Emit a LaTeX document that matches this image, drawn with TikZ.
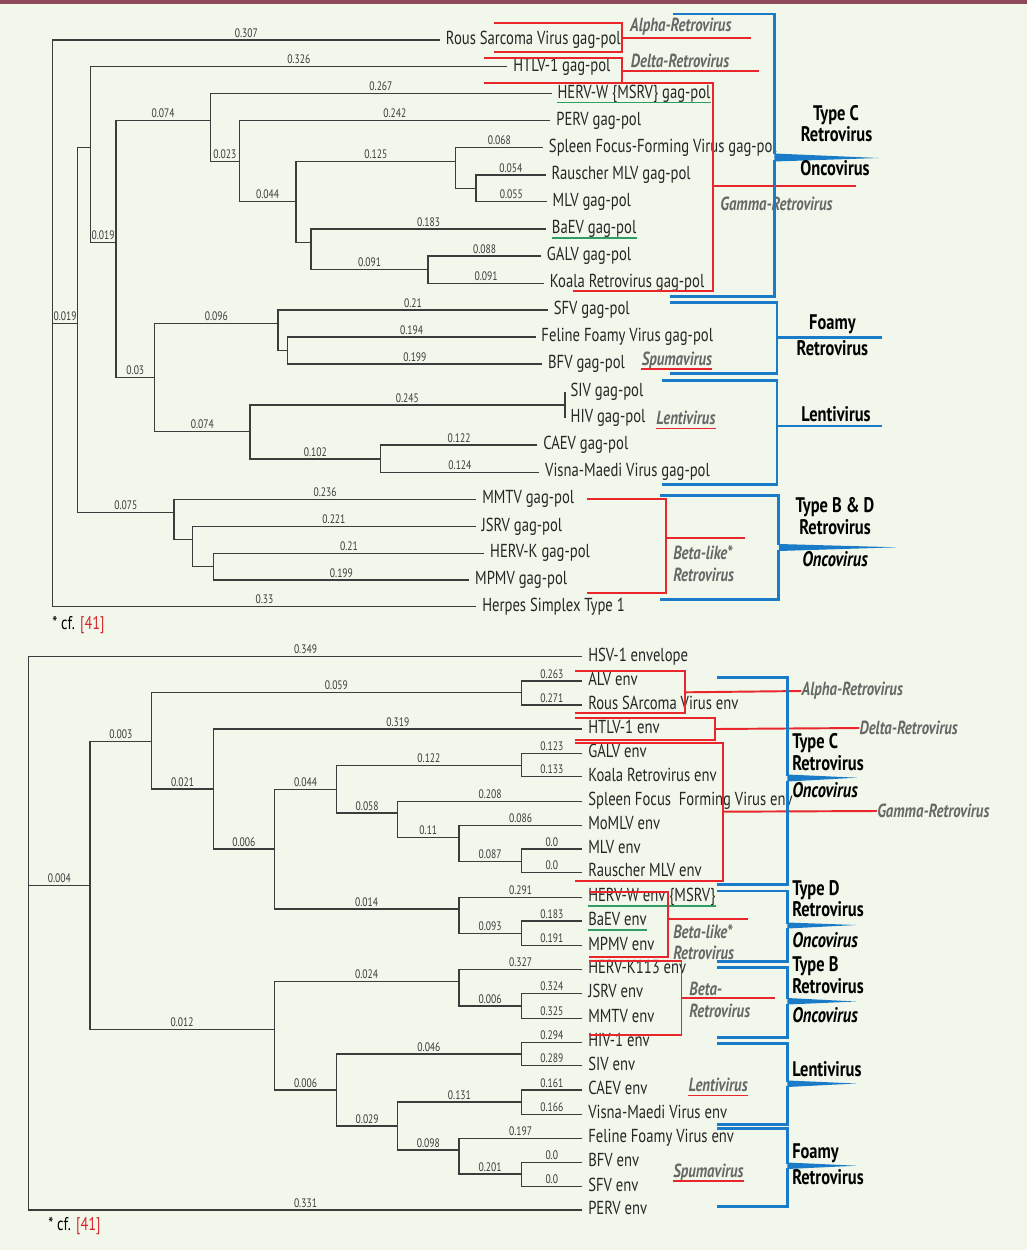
\documentclass[tikz,border=0pt]{standalone}
\usepackage{fontspec}
\setmainfont{PT Sans}[FakeStretch=0.78]
\usetikzlibrary{positioning}

\definecolor{paper}{HTML}{F1F7EA}
\definecolor{band}{HTML}{8E4A5A}
\definecolor{treeline}{HTML}{3C3C3C}
\definecolor{genusred}{HTML}{E8262B}
\definecolor{typeblue}{HTML}{1A7BC8}
\definecolor{hervgreen}{HTML}{2E9E62}
\definecolor{genusgray}{HTML}{676767}
\definecolor{refred}{HTML}{D7262B}

\tikzset{
  branch/.style={draw=treeline, line width=0.65pt},
  leaf/.style={anchor=west, inner xsep=3.2pt, inner ysep=0pt, text=black!85,
    text height=7.5pt, text depth=2.2pt, font=\fontsize{10.7}{12}\selectfont},
  brlen/.style={above, pos=0.75, inner sep=1.2pt, text=treeline,
    font=\fontsize{7}{8}\selectfont},
  genusline/.style={draw=genusred, line width=1.1pt},
  genuslabel/.style={anchor=west, inner sep=0pt, text=genusgray, align=left,
    font=\fontsize{10.8}{12.5}\selectfont\bfseries\itshape},
  typeline/.style={draw=typeblue, line width=1.5pt},
  typelabel/.style={inner sep=0pt, text=black, text height=8.5pt, text depth=2.5pt,
    font=\fontsize{12}{13}\selectfont\bfseries},
  hervline/.style={draw=hervgreen, line width=1pt},
}

\begin{document}
\begin{tikzpicture}[x=0.02cm,y=-0.02cm]

\useasboundingbox (0,0) rectangle (1027,1250);
\fill[paper] (0,0) rectangle (1027,1250);
\fill[band] (0,0) rectangle (1027,4);

%%%%%%%%%%%%%%%%%%%%%%%%%%%%%%%%%%%%%%%%
%%% Upper tree : gag-pol
%%%%%%%%%%%%%%%%%%%%%%%%%%%%%%%%%%%%%%%%

% Inner nodes
\coordinate (troot) at (52.7,323.3);
\coordinate (tA) at (77.7,323.3);
\coordinate (tB) at (90.3,147.7);
\coordinate (tC) at (116,242.7);
\coordinate (tD) at (210.3,120.7);
\coordinate (tE) at (239.3,161.7);
\coordinate (tF) at (296,201.7);
\coordinate (tG) at (455.7,161.7);
\coordinate (tH) at (476,188.3);
\coordinate (tI) at (311,242.7);
\coordinate (tJ) at (428,269.3);
\coordinate (tK) at (154.7,377.7);
\coordinate (tL) at (278,323.3);
\coordinate (tM) at (287.7,350.7);
\coordinate (tN) at (250,431.7);
\coordinate (tO) at (380.7,459);
\coordinate (tP) at (174,512.7);
\coordinate (tQ) at (192.3,539.3);
\coordinate (tR) at (213.7,566.7);
\coordinate (sivhiv) at (564.7,405);

% Leaves
\node[leaf] (rous) at (440,40) {Rous Sarcoma Virus gag-pol};
\node[leaf] (htlv) at (507.4,66.7) {HTLV-1 gag-pol};
\node[leaf] (hervw) at (551.6,93.7) {HERV-W \{MSRV\} gag-pol};
\node[leaf] (perv) at (550.4,120.7) {PERV gag-pol};
\node[leaf] (sffv) at (543,147.7) {Spleen Focus-Forming Virus gag-pol};
\node[leaf] (rauscher) at (545.6,175) {Rauscher MLV gag-pol};
\node[leaf] (mlv) at (546.7,201.7) {MLV gag-pol};
\node[leaf] (baev) at (546,229) {BaEV gag-pol};
\node[leaf] (galv) at (541,256) {GALV gag-pol};
\node[leaf] (koala) at (544,283.3) {Koala Retrovirus gag-pol};
\node[leaf] (sfv) at (547.8,310) {SFV gag-pol};
\node[leaf] (ffv) at (535.5,337) {Feline Foamy Virus gag-pol};
\node[leaf] (bfv) at (542.2,364) {BFV gag-pol};
\node[leaf] (siv) at (564.7,391.7) {SIV gag-pol};
\node[leaf] (hiv) at (564.7,418.3) {HIV gag-pol};
\node[leaf] (caev) at (537.3,445) {CAEV gag-pol};
\node[leaf] (visna) at (539.2,472.3) {Visna-Maedi Virus gag-pol};
\node[leaf] (mmtv) at (476.3,499.3) {MMTV gag-pol};
\node[leaf] (jsrv) at (475.6,526.7) {JSRV gag-pol};
\node[leaf] (hervk) at (484.2,553.3) {HERV-K gag-pol};
\node[leaf] (mpmv) at (469.2,580) {MPMV gag-pol};
\node[leaf] (herpes) at (476.3,606.7) {Herpes Simplex Type 1};

% Branches
\draw[branch] (troot) |- node[brlen]{0.307} (rous.west);
\draw[branch] (troot) |- node[brlen]{0.019} (tA);
\draw[branch] (troot) |- node[brlen]{0.33} (herpes.west);
\draw[branch] (tA) |- (tB);
\draw[branch] (tA) |- node[brlen]{0.075} (tP);
\draw[branch] (tB) |- node[brlen]{0.326} (htlv.west);
\draw[branch] (tB) |- node[brlen]{0.019} (tC);
\draw[branch] (tC) |- node[brlen]{0.074} (tD);
\draw[branch] (tC) |- node[brlen]{0.03} (tK);
\draw[branch] (tD) |- node[brlen]{0.267} (hervw.west);
\draw[branch] (tD) |- node[brlen]{0.023} (tE);
\draw[branch] (tE) |- node[brlen]{0.242} (perv.west);
\draw[branch] (tE) |- node[brlen]{0.044} (tF);
\draw[branch] (tF) |- node[brlen]{0.125} (tG);
\draw[branch] (tF) |- (tI);
\draw[branch] (tG) |- node[brlen]{0.068} (sffv.west);
\draw[branch] (tG) |- (tH);
\draw[branch] (tH) |- node[brlen]{0.054} (rauscher.west);
\draw[branch] (tH) |- node[brlen]{0.055} (mlv.west);
\draw[branch] (tI) |- node[brlen]{0.183} (baev.west);
\draw[branch] (tI) |- node[brlen]{0.091} (tJ);
\draw[branch] (tJ) |- node[brlen]{0.088} (galv.west);
\draw[branch] (tJ) |- node[brlen]{0.091} (koala.west);
\draw[branch] (tK) |- node[brlen]{0.096} (tL);
\draw[branch] (tK) |- node[brlen]{0.074} (tN);
\draw[branch] (tL) |- node[brlen]{0.21} (sfv.west);
\draw[branch] (tL) |- (tM);
\draw[branch] (tM) |- node[brlen]{0.194} (ffv.west);
\draw[branch] (tM) |- node[brlen]{0.199} (bfv.west);
\draw[branch] (tN) |- node[brlen]{0.245} (sivhiv);
\draw[branch, line width=1.2pt] (siv.west) -- (hiv.west);
\draw[branch] (tN) |- node[brlen]{0.102} (tO);
\draw[branch] (tO) |- node[brlen]{0.122} (caev.west);
\draw[branch] (tO) |- node[brlen]{0.124} (visna.west);
\draw[branch] (tP) |- node[brlen]{0.236} (mmtv.west);
\draw[branch] (tP) |- (tQ);
\draw[branch] (tQ) |- node[brlen]{0.221} (jsrv.west);
\draw[branch] (tQ) |- (tR);
\draw[branch] (tR) |- node[brlen]{0.21} (hervk.west);
\draw[branch] (tR) |- node[brlen]{0.199} (mpmv.west);

% Human endogenous
\draw[hervline] ([xshift=3.2pt,yshift=-2.4pt]hervw.base west) -- ([xshift=-3.2pt,yshift=-2.4pt]hervw.base east);
\draw[hervline] ([xshift=3.2pt,yshift=-2.4pt]baev.base west) -- ([xshift=-3.2pt,yshift=-2.4pt]baev.base east);

% Genera (red)
\draw[genusline] (494.3,23.3) -- (622.3,23.3) -- (622.3,52.3) -- (494.3,52.3);
\draw[genusline] (622.3,38.3) -- (750.7,38.3);
\node[genuslabel] (alphaT) at (629.8,26.7) {Alpha-Retrovirus};

\draw[genusline] (484.2,58.3) -- (621.6,58.3) -- (621.6,83.3) -- (484.2,83.3);
\draw[genusline] (621.6,70.7) -- (759.4,70.7);
\node[genuslabel] (deltaT) at (630.6,61) {Delta-Retrovirus};

\draw[genusline] (572.9,83.3) -- (713.3,83.3) -- (713.3,291) -- (572.9,291);
\draw[genusline] (713.3,186) -- (855.6,186);
\node[genuslabel] (gammaT) at (720,204) {Gamma-Retrovirus};

\node[genuslabel] (spumaT) at (641.4,360.7) {Spumavirus};
\draw[genusline] ([yshift=-2.2pt]spumaT.base west) -- ([yshift=-2.2pt]spumaT.base east);

\node[genuslabel] (lentiT) at (656,418) {Lentivirus};
\draw[genusline] ([yshift=-2.2pt]lentiT.base west) -- ([yshift=-2.2pt]lentiT.base east);

\draw[genusline] (587.1,499.3) -- (665.8,499.3) -- (665.8,592.7) -- (587.1,592.7);
\draw[genusline] (665.8,538.3) -- (745.1,538.3);
\node[genuslabel] (betaT) at (672.9,564) {Beta-like*\\Retrovirus};

% Types (blue)
\draw[typeline] (672.9,14) -- (774.3,14) -- (774.3,154.5);
\fill[typeblue] (774.3,153.5) -- (878.8,158) -- (774.3,161.5) -- cycle;
\draw[typeline] (774.3,160.5) -- (774.3,296.7) -- (670.3,296.7);
\node[typelabel] (tcType) at (836,115) {Type C};
\node[typelabel] (tcRetro) at (836.5,136) {Retrovirus};
\node[typelabel] (tcOnco) at (835,170.7) {Oncovirus};

\draw[typeline] (670.3,302.7) -- (777,302.7) -- (777,373.3) -- (670.3,373.3);
\draw[typeline] (777,337.7) -- (881.8,337.7);
\node[typelabel] (tfFoamy) at (832.4,324.3) {Foamy};
\node[typelabel] (tfRetro) at (832.4,350) {Retrovirus};

\draw[typeline] (662,380.7) -- (777,380.7) -- (777,484.3) -- (662,484.3);
\draw[typeline] (777,426) -- (881.8,426);
\node[typelabel] (tlLenti) at (836,416) {Lentivirus};

\draw[typeline] (659.8,495.7) -- (778.8,495.7) -- (778.8,545);
\fill[typeblue] (778.8,544) -- (896.8,547.3) -- (778.8,551) -- cycle;
\draw[typeline] (778.8,550) -- (778.8,599.3) -- (659.8,599.3);
\node[typelabel] (tbType) at (835,507.3) {Type B \& D};
\node[typelabel] (tbRetro) at (835,529) {Retrovirus};
\node[typelabel, font=\fontsize{12}{13}\selectfont\bfseries\itshape] (tbOnco) at (835,561.7) {Oncovirus};

\node[anchor=west, inner sep=0pt, font=\fontsize{10.5}{12}\selectfont] (noteT) at (52,625) {* cf. \textcolor{refred}{[41]}};

%%%%%%%%%%%%%%%%%%%%%%%%%%%%%%%%%%%%%%%%
%%% Lower tree : env
%%%%%%%%%%%%%%%%%%%%%%%%%%%%%%%%%%%%%%%%

% Inner nodes
\coordinate (broot) at (28.7,885.3);
\coordinate (b1) at (90,885.3);
\coordinate (b2) at (151.7,741.3);
\coordinate (balv) at (521.2,692.7);
\coordinate (b3) at (213.3,789);
\coordinate (b4) at (274.3,849);
\coordinate (b5) at (336.7,789.3);
\coordinate (bgalv) at (521.2,765.3);
\coordinate (b6) at (397.7,813);
\coordinate (b7) at (459,837.3);
\coordinate (b8) at (521.2,861.3);
\coordinate (b9) at (459,909);
\coordinate (b10) at (521.2,933.3);
\coordinate (b11) at (274.3,1029.3);
\coordinate (b12) at (459,981.7);
\coordinate (b13) at (521.2,1006);
\coordinate (b14) at (336.7,1090);
\coordinate (b15) at (521.2,1054);
\coordinate (b16) at (397.7,1126);
\coordinate (b17) at (521.2,1102);
\coordinate (b18) at (459,1150);
\coordinate (b19) at (521.2,1174);

% Leaves
\node[leaf] (ehsv) at (582.3,656.7) {HSV-1 envelope};
\node[leaf] (ealv) at (582.3,681) {ALV env};
\node[leaf] (ersv) at (582.3,705) {Rous SArcoma Virus env};
\node[leaf] (ehtlv) at (582.3,729) {HTLV-1 env};
\node[leaf] (egalv) at (582.3,753.3) {GALV env};
\node[leaf] (ekoala) at (582.3,776.7) {Koala Retrovirus env};
\node[leaf] (esffv) at (582.3,801.3) {Spleen Focus~ Forming Virus env};
\node[leaf] (emomlv) at (582.3,825.3) {MoMLV env};
\node[leaf] (emlv) at (582.3,849) {MLV env};
\node[leaf] (erauscher) at (582.3,872.3) {Rauscher MLV env};
\node[leaf] (ehervw) at (582.3,897.3) {HERV-W env \{MSRV\}};
\node[leaf] (ebaev) at (582.3,921) {BaEV env};
\node[leaf] (empmv) at (582.3,945.7) {MPMV env};
\node[leaf] (ehervk) at (582.3,969.3) {HERV-K113 env};
\node[leaf] (ejsrv) at (582.3,993.3) {JSRV env};
\node[leaf] (emmtv) at (582.3,1018.3) {MMTV env};
\node[leaf] (ehiv) at (582.3,1042.3) {HIV-1 env};
\node[leaf] (esiv) at (582.3,1065.7) {SIV env};
\node[leaf] (ecaev) at (582.3,1090) {CAEV env};
\node[leaf] (evisna) at (582.3,1114.3) {Visna-Maedi Virus env};
\node[leaf] (effv) at (582.3,1138.3) {Feline Foamy Virus env};
\node[leaf] (ebfv) at (582.3,1162.3) {BFV env};
\node[leaf] (esfv) at (582.3,1186.7) {SFV env};
\node[leaf] (eperv) at (582.3,1210) {PERV env};

% Branches
\draw[branch] (broot) |- node[brlen]{0.349} (ehsv.west);
\draw[branch] (broot) |- node[brlen]{0.004} (b1);
\draw[branch] (broot) |- node[brlen]{0.331} (eperv.west);
\draw[branch] (b1) |- node[brlen]{0.003} (b2);
\draw[branch] (b1) |- node[brlen]{0.012} (b11);
\draw[branch] (b2) |- node[brlen]{0.059} (balv);
\draw[branch] (b2) |- node[brlen]{0.021} (b3);
\draw[branch] (balv) |- node[brlen]{0.263} (ealv.west);
\draw[branch] (balv) |- node[brlen]{0.271} (ersv.west);
\draw[branch] (b3) |- node[brlen]{0.319} (ehtlv.west);
\draw[branch] (b3) |- node[brlen]{0.006} (b4);
\draw[branch] (b4) |- node[brlen]{0.044} (b5);
\draw[branch] (b4) |- node[brlen]{0.014} (b9);
\draw[branch] (b5) |- node[brlen]{0.122} (bgalv);
\draw[branch] (b5) |- node[brlen]{0.058} (b6);
\draw[branch] (bgalv) |- node[brlen]{0.123} (egalv.west);
\draw[branch] (bgalv) |- node[brlen]{0.133} (ekoala.west);
\draw[branch] (b6) |- node[brlen]{0.208} (esffv.west);
\draw[branch] (b6) |- node[brlen]{0.11} (b7);
\draw[branch] (b7) |- node[brlen]{0.086} (emomlv.west);
\draw[branch] (b7) |- node[brlen]{0.087} (b8);
\draw[branch] (b8) |- node[brlen]{0.0} (emlv.west);
\draw[branch] (b8) |- node[brlen]{0.0} (erauscher.west);
\draw[branch] (b9) |- node[brlen]{0.291} (ehervw.west);
\draw[branch] (b9) |- node[brlen]{0.093} (b10);
\draw[branch] (b10) |- node[brlen]{0.183} (ebaev.west);
\draw[branch] (b10) |- node[brlen]{0.191} (empmv.west);
\draw[branch] (b11) |- node[brlen]{0.024} (b12);
\draw[branch] (b11) |- node[brlen]{0.006} (b14);
\draw[branch] (b12) |- node[brlen]{0.327} (ehervk.west);
\draw[branch] (b12) |- node[brlen]{0.006} (b13);
\draw[branch] (b13) |- node[brlen]{0.324} (ejsrv.west);
\draw[branch] (b13) |- node[brlen]{0.325} (emmtv.west);
\draw[branch] (b14) |- node[brlen]{0.046} (b15);
\draw[branch] (b14) |- node[brlen]{0.029} (b16);
\draw[branch] (b15) |- node[brlen]{0.294} (ehiv.west);
\draw[branch] (b15) |- node[brlen]{0.289} (esiv.west);
\draw[branch] (b16) |- node[brlen]{0.131} (b17);
\draw[branch] (b16) |- node[brlen]{0.098} (b18);
\draw[branch] (b17) |- node[brlen]{0.161} (ecaev.west);
\draw[branch] (b17) |- node[brlen]{0.166} (evisna.west);
\draw[branch] (b18) |- node[brlen]{0.197} (effv.west);
\draw[branch] (b18) |- node[brlen]{0.201} (b19);
\draw[branch] (b19) |- node[brlen]{0.0} (ebfv.west);
\draw[branch] (b19) |- node[brlen]{0.0} (esfv.west);

% Human endogenous
\draw[hervline] ([xshift=3.2pt,yshift=-2.4pt]ehervw.base west) -- ([xshift=-3.2pt,yshift=-2.4pt]ehervw.base east);
\draw[hervline] ([xshift=3.2pt,yshift=-2.4pt]ebaev.base west) -- ([xshift=-3.2pt,yshift=-2.4pt]ebaev.base east);

% Genera (red)
\node[genuslabel] (alphaB) at (801.3,691) {Alpha-Retrovirus};
\draw[genusline] (574.8,670.7) -- (685.2,670.7) -- (685.2,713.3) -- (574.8,713.3);
\draw[genusline] (685.2,692.3) -- (alphaB.west);

\node[genuslabel] (deltaB) at (859.3,728) {Delta-Retrovirus};
\draw[genusline] (574.8,717.7) -- (715.2,717.7) -- (715.2,740) -- (574.8,740);
\draw[genusline] (715.2,729) -- (deltaB.west);

\node[genuslabel] (gammaB) at (876.9,811) {Gamma-Retrovirus};
\draw[genusline] (574.8,743.3) -- (723.4,743.3) -- (723.4,880.7) -- (574.8,880.7);
\draw[genusline] (723.4,811.7) -- (gammaB.west);

\draw[genusline] (588.6,892.3) -- (667.6,892.3) -- (667.6,956.7) -- (588.6,956.7);
\draw[genusline] (667.6,919.3) -- (748.1,919.3);
\node[genuslabel] (betalikeB) at (672.9,942.2) {Beta-like*\\Retrovirus};

\draw[genusline] (588.6,961) -- (681.5,961) -- (681.5,1035) -- (588.6,1035);
\draw[genusline] (681.5,997.7) -- (775.1,997.7);
\node[genuslabel] (betaB) at (689,1000) {Beta-\\Retrovirus};

\node[genuslabel] (lentiB) at (688.2,1085) {Lentivirus};
\draw[genusline] ([yshift=-2.2pt]lentiB.base west) -- ([yshift=-2.2pt]lentiB.base east);

\node[genuslabel] (spumaB) at (672.9,1172.7) {Spumavirus};
\draw[genusline] ([yshift=-2.2pt]spumaB.base west) -- ([yshift=-2.2pt]spumaB.base east);

% Types (blue)
\draw[typeline] (717,677.7) -- (787.4,677.7) -- (787.4,775.5);
\fill[typeblue] (787.4,774.5) -- (857.4,777.7) -- (787.4,781.5) -- cycle;
\draw[typeline] (787.4,780.5) -- (787.4,884.3) -- (717,884.3);

\draw[typeline] (717,891) -- (787.4,891) -- (787.4,923.5);
\fill[typeblue] (787.4,922.5) -- (856.3,925) -- (787.4,928.5) -- cycle;
\draw[typeline] (787.4,927.5) -- (787.4,961.7) -- (717,961.7);

\draw[typeline] (717,967.7) -- (787.4,967.7) -- (787.4,999);
\fill[typeblue] (787.4,998) -- (856.3,1001.5) -- (787.4,1004.5) -- cycle;
\draw[typeline] (787.4,1003.5) -- (787.4,1037.7) -- (717,1037.7);

\draw[typeline] (717,1043.3) -- (787.4,1043.3) -- (787.4,1081.5);
\fill[typeblue] (787.4,1080.5) -- (856.3,1083.5) -- (787.4,1087) -- cycle;
\draw[typeline] (787.4,1086) -- (787.4,1124.3) -- (717,1124.3);

\draw[typeline] (717,1128.3) -- (787.4,1128.3) -- (787.4,1163.5);
\fill[typeblue] (787.4,1162.5) -- (856.3,1165.7) -- (787.4,1169) -- cycle;
\draw[typeline] (787.4,1168) -- (787.4,1206.7) -- (717,1206.7);

\tikzset{typeleft/.style={typelabel, anchor=west}}
\node[typeleft] (bcType) at (791.9,743.3) {Type C};
\node[typeleft] (bcRetro) at (791.9,765) {Retrovirus};
\node[typeleft, font=\fontsize{12}{13}\selectfont\bfseries\itshape] (bcOnco) at (791.9,792.7) {Oncovirus};
\node[typeleft] (bdType) at (791.9,890) {Type D};
\node[typeleft] (bdRetro) at (791.9,911.7) {Retrovirus};
\node[typeleft, font=\fontsize{12}{13}\selectfont\bfseries\itshape] (bdOnco) at (791.9,942.3) {Oncovirus};
\node[typeleft] (bbType) at (791.9,966.7) {Type B};
\node[typeleft] (bbRetro) at (791.9,988.3) {Retrovirus};
\node[typeleft, font=\fontsize{12}{13}\selectfont\bfseries\itshape] (bbOnco) at (791.9,1017.3) {Oncovirus};
\node[typeleft] (blLenti) at (791.9,1071) {Lentivirus};
\node[typeleft] (bfFoamy) at (791.9,1153.3) {Foamy};
\node[typeleft] (bfRetro) at (791.9,1179) {Retrovirus};

\node[anchor=west, inner sep=0pt, font=\fontsize{10.5}{12}\selectfont] (noteB) at (48,1226) {* cf. \textcolor{refred}{[41]}};

\end{tikzpicture}
\end{document}
